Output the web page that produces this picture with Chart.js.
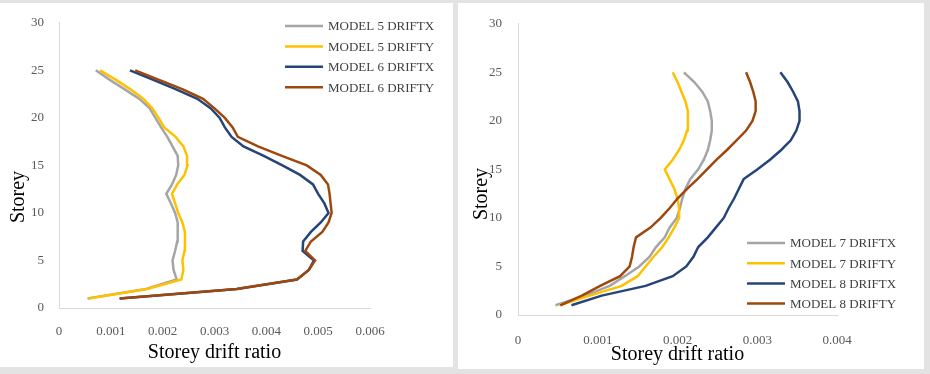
<!DOCTYPE html>
<html>
<head>
<meta charset="utf-8">
<script src="https://cdn.jsdelivr.net/npm/chart.js@4.4.1/dist/chart.umd.min.js"></script>
<style>
	html, body { margin: 0; padding: 0; }
	body { width: 930px; height: 374px; background: #e3e3e3; position: relative; overflow: hidden; }
	.panel { position: absolute; background: #fff; }
	canvas { position: absolute; }
</style>
</head>
<body>
<div class="panel" style="left:0;top:3px;width:453px;height:364px"></div>
<div class="panel" style="left:458px;top:3px;width:466px;height:366px"></div>
<canvas id="leftChart" style="left:0;top:0;width:453px;height:367px" width="453" height="367"></canvas>
<canvas id="rightChart" style="left:458px;top:0;width:466px;height:369px" width="466" height="369"></canvas>
<script>
const storeys = [1, 2, 3, 4, 5, 6, 7, 8, 9, 10, 11, 12, 13, 14, 15, 16, 17, 18, 19, 20, 21, 22, 23, 24, 25];
const yTicks = [0, 5, 10, 15, 20, 25, 30];

const leftLabels = ["MODEL 5 DRIFTX", "MODEL 5 DRIFTY", "MODEL 6 DRIFTX", "MODEL 6 DRIFTY"];
const rightLabels = ["MODEL 7 DRIFTX", "MODEL 7 DRIFTY", "MODEL 8 DRIFTX", "MODEL 8 DRIFTY"];
const colors = ["#A5A5A5", "#FFC000", "#264478", "#9E480E"];

const model5X = [0.00055, 0.00168, 0.00227, 0.00221, 0.00219, 0.00224, 0.00228, 0.00229, 0.00229, 0.00224, 0.00216, 0.00207, 0.00218, 0.00226, 0.0023, 0.00229, 0.00219, 0.00209, 0.00197, 0.00186, 0.00175, 0.00155, 0.00127, 0.00098, 0.00071];
const model5Y = [0.00057, 0.0017, 0.00236, 0.0024, 0.00238, 0.00242, 0.00243, 0.00243, 0.00238, 0.0023, 0.00224, 0.00218, 0.00228, 0.00242, 0.00248, 0.00247, 0.0024, 0.00225, 0.00203, 0.00192, 0.0018, 0.00163, 0.00138, 0.0011, 0.00079];
const model6X = [0.00117, 0.00343, 0.00459, 0.00482, 0.00492, 0.0047, 0.00471, 0.00486, 0.00505, 0.0052, 0.00512, 0.005, 0.0049, 0.00465, 0.00431, 0.00395, 0.00356, 0.00333, 0.0032, 0.0031, 0.00293, 0.00267, 0.00226, 0.00182, 0.00137];
const model6Y = [0.00117, 0.00343, 0.00459, 0.00482, 0.00494, 0.00475, 0.00486, 0.00508, 0.0052, 0.00526, 0.00524, 0.00522, 0.00519, 0.00505, 0.00478, 0.0043, 0.00384, 0.00345, 0.00335, 0.0032, 0.003, 0.00278, 0.00239, 0.00193, 0.00147];

const model7X = [0.00047, 0.00084, 0.00115, 0.00134, 0.00152, 0.00165, 0.00173, 0.00184, 0.0019, 0.00199, 0.00203, 0.00206, 0.0021, 0.00216, 0.00226, 0.00233, 0.00238, 0.00241, 0.00243, 0.00243, 0.00241, 0.00238, 0.00231, 0.00221, 0.00208];
const model7Y = [0.00052, 0.0009, 0.0013, 0.0015, 0.0016, 0.0017, 0.00181, 0.00189, 0.00196, 0.00202, 0.00202, 0.002, 0.00196, 0.0019, 0.00184, 0.00194, 0.00202, 0.00208, 0.00212, 0.00213, 0.00213, 0.0021, 0.00205, 0.002, 0.00194];
const model8X = [0.00067, 0.00105, 0.0016, 0.00194, 0.00211, 0.0022, 0.00226, 0.00238, 0.00248, 0.00258, 0.00264, 0.00271, 0.00277, 0.00283, 0.003, 0.00316, 0.0033, 0.00342, 0.00349, 0.00353, 0.00353, 0.00351, 0.00345, 0.00338, 0.00329];
const model8Y = [0.00053, 0.0008, 0.00103, 0.00128, 0.0014, 0.00143, 0.00145, 0.00148, 0.00166, 0.00179, 0.0019, 0.002, 0.00212, 0.00225, 0.00237, 0.00249, 0.00262, 0.00274, 0.00286, 0.00294, 0.00298, 0.00298, 0.00295, 0.00291, 0.00286];

const serif = "'Liberation Serif', 'DejaVu Serif', serif";

function makeDataset(label, values, color, order) {
	return {
		label: label,
		data: values.map((v, i) => ({ x: v, y: storeys[i] })),
		borderColor: color,
		backgroundColor: color,
		borderWidth: 2.5,
		pointRadius: 0,
		showLine: true,
		tension: 0,
		order: order, // later series on top, like Excel
	};
}

// legend + rotated y title, drawn where Excel put them
const extras = {
	id: "extras",
	afterDraw(chart, args, opts) {
		const c = chart.ctx;
		c.save();
		c.font = "13px " + serif;
		c.textBaseline = "middle";
		c.textAlign = "left";
		chart.data.datasets.forEach((ds, i) => {
			const y = opts.legendY + i * opts.legendStep;
			c.strokeStyle = ds.borderColor;
			c.lineWidth = 2.5;
			c.beginPath();
			c.moveTo(opts.legendX, y);
			c.lineTo(opts.legendX + 38, y);
			c.stroke();
			c.fillStyle = "#404040";
			c.fillText(ds.label, opts.legendX + 43, y + 1);
		});
		c.translate(opts.titleX, opts.titleY);
		c.rotate(-Math.PI / 2);
		c.font = "20px " + serif;
		c.textAlign = "center";
		c.fillStyle = "#000";
		c.fillText("Storey", 0, 0);
		c.restore();
	},
};

function makeChart(id, labels, series, xMax, axisW, axisH, padRight, tickPadY, tickPadX, extraOpts) {
	return new Chart(document.getElementById(id), {
		type: "scatter",
		data: {
			datasets: series.map((s, i) => makeDataset(labels[i], s, colors[i], series.length - 1 - i)),
		},
		options: {
			responsive: false,
			animation: false,
			layout: { padding: { top: 14, right: padRight, left: 0, bottom: 0 } },
			plugins: {
				legend: { display: false },
				tooltip: { enabled: false },
				extras: extraOpts,
			},
			scales: {
				x: {
					type: "linear",
					min: 0,
					max: xMax,
					grid: { display: false, drawTicks: false },
					border: { display: true, color: "#d9d9d9", width: 1 },
					ticks: {
						stepSize: 0.001,
						padding: tickPadX,
						color: "#595959",
						font: { family: serif, size: 13 },
						callback: (v) => (v === 0 ? "0" : v.toFixed(3)),
					},
					title: {
						display: true,
						text: "Storey drift ratio",
						color: "#000",
						font: { family: serif, size: 20 },
						padding: { top: 0, bottom: 2 },
					},
					afterFit: (scale) => {
						scale.height = axisH;
					},
				},
				y: {
					type: "linear",
					min: 0,
					max: 30,
					afterBuildTicks: (scale) => {
						scale.ticks = yTicks.map((v) => ({ value: v }));
					},
					grid: { display: false, drawTicks: false },
					border: { display: true, color: "#d9d9d9", width: 1 },
					ticks: {
						padding: tickPadY,
						color: "#595959",
						font: { family: serif, size: 13 },
					},
					afterFit: (scale) => {
						scale.width = axisW;
					},
				},
			},
		},
		plugins: [extras],
	});
}

makeChart("leftChart", leftLabels, [model5X, model5Y, model6X, model6Y], 0.006, 59, 59, 83, 15, 16,
	{ legendX: 285, legendY: 26, legendStep: 20.4, titleX: 19, titleY: 197 });

makeChart("rightChart", rightLabels, [model7X, model7Y, model8X, model8Y], 0.004, 60, 54, 87, 16, 18,
	{ legendX: 289, legendY: 243, legendStep: 20.2, titleX: 24, titleY: 194 });
</script>
</body>
</html>
